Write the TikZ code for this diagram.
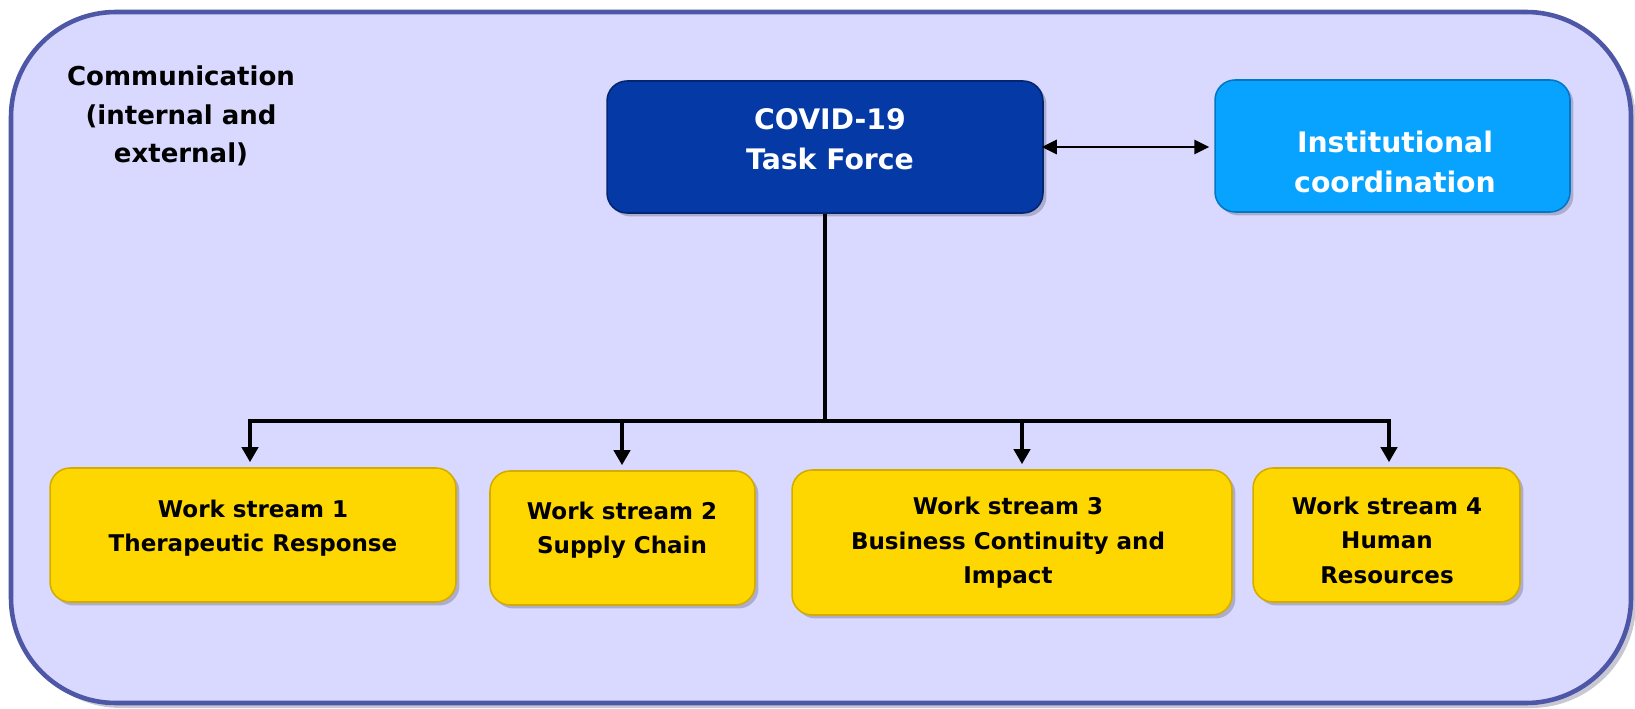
\documentclass[tikz,border=0pt]{standalone}
\usepackage{fontspec}
\setmainfont{DejaVu Sans}
\usetikzlibrary{arrows.meta,shadows}
\definecolor{bgfill}{RGB}{217,217,255}
\definecolor{bgline}{RGB}{78,86,166}
\definecolor{covidfill}{RGB}{5,58,166}
\definecolor{covidline}{RGB}{3,38,115}
\definecolor{instfill}{RGB}{8,163,255}
\definecolor{instline}{RGB}{5,118,196}
\definecolor{wsfill}{RGB}{255,215,0}
\definecolor{wsline}{RGB}{212,172,0}
\definecolor{shadecol}{RGB}{118,118,150}
\begin{document}
\begin{tikzpicture}[x=0.02cm,y=-0.02cm,
  box/.style={rectangle, rounded corners=0.4cm, inner sep=0pt, line width=0.9pt,
    drop shadow={shadow xshift=0.07cm, shadow yshift=-0.07cm, opacity=0.45, fill=shadecol}},
  wsbox/.style={box, fill=wsfill, draw=wsline},
  covidbox/.style={box, fill=covidfill, draw=covidline},
  instbox/.style={box, fill=instfill, draw=instline},
  wstext/.style={align=center, inner sep=0pt, text=black, font=\fontsize{13.1}{19.6}\selectfont\bfseries},
  whitetext/.style={align=center, inner sep=0pt, text=white, font=\fontsize{16.1}{22.7}\selectfont\bfseries},
  commtext/.style={align=center, inner sep=0pt, text=black, font=\fontsize{14.8}{21.8}\selectfont\bfseries},
  link/.style={line width=2.3pt, black},
  barline/.style={line width=1.8pt, black, line cap=rect},
  arr/.style={link, -{Triangle[length=0.3cm,width=0.32cm]}, shorten >=0.1cm},
  darr/.style={line width=1.6pt, black, {Triangle[length=0.3cm,width=0.28cm]}-{Triangle[length=0.3cm,width=0.28cm]}}
]
\useasboundingbox (0,0) rectangle (1635,709);
\fill[white] (0,0) rectangle (1635,709);
% outer frame
\draw[bgline, fill=bgfill, line width=2.6pt, rounded corners=2.1cm,
  drop shadow={shadow xshift=0.1cm, shadow yshift=-0.1cm, opacity=0.4, fill=shadecol}]
  (11,12) rectangle (1631,703);

\node[commtext] (comm) at (181,116) {Communication\\(internal and\\external)};

% top boxes
\node[covidbox, minimum width=8.72cm, minimum height=2.64cm] (covid) at (825,147) {};
\node[whitetext] (covidtxt) at (830,139) {COVID-19\\Task Force};
\node[instbox, minimum width=7.1cm, minimum height=2.64cm] (inst) at (1392.5,146) {};
\node[whitetext] (insttxt) at (1395,162) {Institutional\\coordination};

% work streams
\node[wsbox, minimum width=8.12cm, minimum height=2.68cm] (ws1) at (253,535) {};
\node[wstext] (ws1txt) at (253,528) {Work stream 1\\Therapeutic Response};
\node[wsbox, minimum width=5.3cm, minimum height=2.68cm] (ws2) at (622.5,538) {};
\node[wstext] (ws2txt) at (622,530) {Work stream 2\\Supply Chain};
\node[wsbox, minimum width=8.8cm, minimum height=2.9cm] (ws3) at (1012,542.5) {};
\node[wstext] (ws3txt) at (1008,543) {Work stream 3\\Business Continuity and\\Impact};
\node[wsbox, minimum width=5.34cm, minimum height=2.68cm] (ws4) at (1386.5,535) {};
\node[wstext] (ws4txt) at (1387,540) {Work stream 4\\Human\\Resources};

% connectors
\draw[darr, shorten <=-0.04cm, shorten >=0.1cm] (covid.east) -- (covid.east -| inst.west);
\coordinate (hub) at (825,419);
\coordinate (a1) at (250,421);
\coordinate (a2) at (622,421);
\coordinate (a3) at (1022,421);
\coordinate (a4) at (1389,421);
\draw[link] (covid.south) -- (hub);
\draw[barline] (a1) -- (a4);
\draw[arr] (a1) -- (a1 |- ws1.north);
\draw[arr] (a2) -- (a2 |- ws2.north);
\draw[arr] (a3) -- (a3 |- ws3.north);
\draw[arr] (a4) -- (a4 |- ws4.north);
\end{tikzpicture}
\end{document}
